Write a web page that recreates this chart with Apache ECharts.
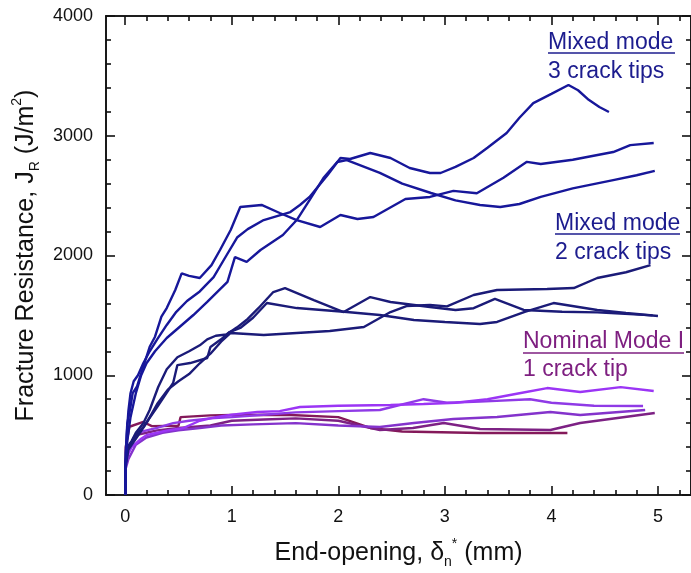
<!DOCTYPE html>
<html><head><meta charset="utf-8">
<script src="https://cdn.jsdelivr.net/npm/echarts@6/dist/echarts.min.js"></script>
<style>html,body{margin:0;padding:0;background:#fff}#c{width:691px;height:573px}</style>
</head><body><div id="c"></div>
<script>
// ---- tick values ----
const xMajorTicks = [0, 1, 2, 3, 4, 5];
const xMinorTicks = [0.2,0.4,0.6,0.8,1.2,1.4,1.6,1.8,2.2,2.4,2.6,2.8,3.2,3.4,3.6,3.8,4.2,4.4,4.6,4.8,5.2];
const yMajorTicks = [0, 1000, 2000, 3000, 4000];
const yMinorTicks = [200,400,600,800,1200,1400,1600,1800,2200,2400,2600,2800,3200,3400,3600,3800];

// ---- Mixed mode, 3 crack tips ----
const threeTipA = [[0,0],[0.005,300],[0.015,500],[0.03,700],[0.05,850],[0.08,950],[0.12,1000],[0.17,1100],[0.23,1200],[0.3,1300],[0.39,1420],[0.48,1530],[0.58,1620],[0.7,1700],[0.83,1820],[0.95,2000],[1.05,2150],[1.15,2220],[1.3,2296],[1.55,2363],[1.64,2422],[1.73,2489],[1.9,2672],[2.02,2814],[2.11,2806],[2.3,2856],[2.49,2814],[2.67,2731],[2.86,2689],[2.96,2689],[3.1,2740],[3.27,2814],[3.4,2900],[3.58,3023],[3.7,3150],[3.83,3273],[4.0,3350],[4.16,3424],[4.25,3380],[4.35,3300],[4.45,3240],[4.54,3198]];
const threeTipB = [[0,0],[0.005,250],[0.02,450],[0.05,650],[0.1,850],[0.15,1000],[0.2,1100],[0.28,1200],[0.39,1311],[0.51,1403],[0.64,1503],[0.77,1612],[0.96,1779],[1.03,1987],[1.14,1946],[1.27,2046],[1.48,2171],[1.61,2296],[1.73,2463],[1.86,2647],[1.99,2781],[2.08,2797],[2.39,2690],[2.6,2600],[2.87,2522],[3.1,2460],[3.33,2422],[3.52,2405],[3.7,2430],[3.9,2490],[4.2,2560],[4.58,2630],[4.8,2670],[4.97,2706]];
const threeTipC = [[0,0],[0.005,350],[0.02,600],[0.045,710],[0.07,850],[0.11,904],[0.14,988],[0.18,1100],[0.23,1238],[0.28,1322],[0.34,1489],[0.39,1561],[0.47,1712],[0.53,1851],[0.6,1830],[0.7,1812],[0.81,1920],[0.89,2046],[0.99,2213],[1.08,2405],[1.28,2422],[1.45,2355],[1.61,2296],[1.83,2238],[2.02,2338],[2.18,2305],[2.33,2322],[2.63,2472],[2.86,2489],[3.08,2540],[3.3,2520],[3.55,2650],[3.77,2782],[3.9,2764],[4.2,2800],[4.58,2864],[4.74,2922],[4.96,2940]];

// ---- Mixed mode, 2 crack tips ----
const twoTipD = [[0,0],[0.005,280],[0.02,400],[0.06,450],[0.1,520],[0.17,600],[0.23,710],[0.31,902],[0.39,1050],[0.49,1150],[0.6,1200],[0.7,1250],[0.77,1300],[0.85,1330],[0.95,1340],[1.05,1400],[1.15,1470],[1.25,1560],[1.39,1695],[1.5,1728],[1.77,1628],[2.05,1528],[2.3,1653],[2.49,1612],[2.86,1570],[3.1,1545],[3.27,1560],[3.47,1637],[3.74,1545],[4.1,1530],[4.43,1525],[4.95,1500]];
const twoTipE = [[0,0],[0.005,260],[0.03,400],[0.1,500],[0.17,568],[0.3,735],[0.45,935],[0.49,1085],[0.61,1102],[0.77,1144],[0.8,1236],[0.9,1300],[0.98,1361],[1.08,1395],[1.2,1480],[1.33,1603],[1.61,1561],[2.08,1528],[2.39,1503],[2.71,1461],[3.0,1445],[3.33,1428],[3.49,1445],[3.75,1530],[4.02,1603],[4.43,1545],[4.7,1520],[5.0,1495]];
const twoTipF = [[0,0],[0.005,240],[0.03,380],[0.1,470],[0.2,600],[0.3,760],[0.4,880],[0.5,950],[0.6,1010],[0.7,1100],[0.8,1180],[0.9,1280],[0.99,1353],[1.3,1336],[1.61,1353],[1.92,1370],[2.24,1403],[2.49,1528],[2.64,1578],[2.86,1587],[3.02,1575],[3.27,1670],[3.49,1712],[3.96,1720],[4.21,1728],[4.43,1812],[4.7,1860],[4.93,1920]];

// ---- Nominal Mode I, 1 crack tip ----
const modeOneA = [[0,0],[0.005,250],[0.02,330],[0.06,400],[0.1,430],[0.15,470],[0.2,500],[0.3,520],[0.4,540],[0.55,560],[0.7,620],[0.85,650],[1.0,670],[1.24,693],[1.45,700],[1.64,735],[2.0,745],[2.49,752],[2.8,760],[3.1,770],[3.4,800],[3.7,850],[3.96,893],[4.27,860],[4.65,901],[4.96,868]];
const modeOneB = [[0,0],[0.005,250],[0.03,350],[0.08,470],[0.12,520],[0.2,540],[0.3,560],[0.45,600],[0.6,620],[0.8,640],[1.0,650],[1.3,670],[1.6,690],[2.0,700],[2.39,710],[2.8,800],[3.02,770],[3.33,780],[3.8,800],[4.0,770],[4.4,745],[4.86,743]];
const modeOneC = [[0,0],[0.005,220],[0.03,300],[0.1,420],[0.2,480],[0.35,520],[0.5,540],[0.7,560],[0.9,580],[1.2,590],[1.6,600],[2.0,580],[2.39,568],[2.71,601],[3.08,635],[3.49,651],[3.99,693],[4.27,668],[4.88,710]];
const modeOneD = [[0,0],[0.005,280],[0.03,400],[0.1,500],[0.2,520],[0.3,540],[0.5,560],[0.8,580],[1.0,620],[1.3,630],[1.6,640],[2.0,620],[2.39,543],[2.7,560],[2.99,601],[3.33,551],[3.99,543],[4.27,601],[4.97,685]];
const modeOneE = [[0,0],[0.005,400],[0.04,570],[0.17,610],[0.25,575],[0.5,578],[0.52,650],[0.8,665],[1.0,668],[1.5,670],[2.0,650],[2.3,560],[2.6,530],[3.33,518],[4.15,518]];

const FONT = 'Liberation Sans, Arial, Helvetica, sans-serif';
const AX = '#111';

function labelCfg(ticks) {
  return { show: true, customValues: ticks, fontSize: 18, fontFamily: FONT, color: '#111', margin: 13,
           formatter: function (v) { return String(v); } };
}
function hAxis(pos, ticks, len, labels) {
  return {
    type: 'value', min: -0.18, max: 5.31, position: pos, gridIndex: 0,
    axisLine: { show: true, onZero: false, lineStyle: { color: AX, width: 1.6 } },
    axisTick: { show: true, inside: true, length: len, customValues: ticks, lineStyle: { color: AX, width: 1.6 } },
    axisLabel: labels ? labelCfg(ticks) : { show: false },
    splitLine: { show: false }
  };
}
function vAxis(pos, ticks, len, labels) {
  return {
    type: 'value', min: 0, max: 4000, position: pos, gridIndex: 0,
    axisLine: { show: true, onZero: false, lineStyle: { color: AX, width: 1.6 } },
    axisTick: { show: true, inside: true, length: len, customValues: ticks, lineStyle: { color: AX, width: 1.6 } },
    axisLabel: labels ? labelCfg(ticks) : { show: false },
    splitLine: { show: false }
  };
}

const TF = 25;
const richSubSup = {
  g: { fontSize: TF, fontFamily: FONT, color: '#111', lineHeight: 32 },
  sub: { fontSize: 14, fontFamily: FONT, color: '#111', verticalAlign: 'bottom', lineHeight: 15 },
  sup: { fontSize: 14, fontFamily: FONT, color: '#111', verticalAlign: 'top', lineHeight: 15 }
};

const xMain = hAxis('bottom', xMajorTicks, 9, true);
xMain.name = 'End-opening, {g|δ}{sub|n}{sup|*} (mm)';
xMain.nameLocation = 'middle';
xMain.nameGap = 42;
xMain.nameTextStyle = { fontSize: TF, fontFamily: FONT, color: '#111', lineHeight: 32, rich: richSubSup };

const yMain = vAxis('left', yMajorTicks, 9, true);
yMain.name = 'Fracture Resistance, J{sub|R} (J/m{sup|2})';
yMain.nameLocation = 'middle';
yMain.nameGap = 54;
yMain.nameTextStyle = { fontSize: TF, fontFamily: FONT, color: '#111', lineHeight: 32, rich: richSubSup };

const BLUE3 = '#17179a';
const BLUE2 = '#1b1b78';
function ln(data, color) {
  return { type: 'line', data: data, xAxisIndex: 0, yAxisIndex: 0, showSymbol: false, symbol: 'none',
    lineStyle: { color: color, width: 2.4 }, animation: false, silent: true };
}

const chart = echarts.init(document.getElementById('c'), null, { renderer: 'canvas' });
chart.setOption({
  backgroundColor: '#fff',
  animation: false,
  grid: { left: 106, right: 0, top: 16, bottom: 78, containLabel: false, outerBoundsMode: 'none' },
  xAxis: [xMain, hAxis('bottom', xMinorTicks, 5, false), hAxis('top', xMajorTicks, 9, false), hAxis('top', xMinorTicks, 5, false)],
  yAxis: [yMain, vAxis('left', yMinorTicks, 5, false), vAxis('right', yMajorTicks, 9, false), vAxis('right', yMinorTicks, 5, false)],
  series: [
    ln(modeOneE, '#84195a'),
    ln(modeOneD, '#7d2184'),
    ln(modeOneC, '#8433cc'),
    ln(modeOneB, '#8f3ae6'),
    ln(modeOneA, '#9b35f5'),
    ln(twoTipD, BLUE2), ln(twoTipE, BLUE2), ln(twoTipF, BLUE2),
    ln(threeTipA, BLUE3), ln(threeTipB, BLUE3), ln(threeTipC, BLUE3)
  ],
  graphic: [
    { type: 'text', left: 548, top: 31, style: { text: 'Mixed mode', font: '23px ' + FONT, fill: '#1c1c8e' } },
    { type: 'line', shape: { x1: 548, y1: 53, x2: 675, y2: 53 }, style: { stroke: '#1c1c8e', lineWidth: 1.6 } },
    { type: 'text', left: 548, top: 60, style: { text: '3 crack tips', font: '23px ' + FONT, fill: '#1c1c8e' } },
    { type: 'text', left: 555, top: 212, style: { text: 'Mixed mode', font: '23px ' + FONT, fill: '#1c1c8e' } },
    { type: 'line', shape: { x1: 555, y1: 234, x2: 680, y2: 234 }, style: { stroke: '#1c1c8e', lineWidth: 1.6 } },
    { type: 'text', left: 555, top: 241, style: { text: '2 crack tips', font: '23px ' + FONT, fill: '#1c1c8e' } },
    { type: 'text', left: 523, top: 330, style: { text: 'Nominal Mode I', font: '23px ' + FONT, fill: '#7e1f80' } },
    { type: 'line', shape: { x1: 523, y1: 353, x2: 684, y2: 353 }, style: { stroke: '#7e1f80', lineWidth: 1.6 } },
    { type: 'text', left: 523, top: 358, style: { text: '1 crack tip', font: '23px ' + FONT, fill: '#7e1f80' } }
  ]
});
</script></body></html>
